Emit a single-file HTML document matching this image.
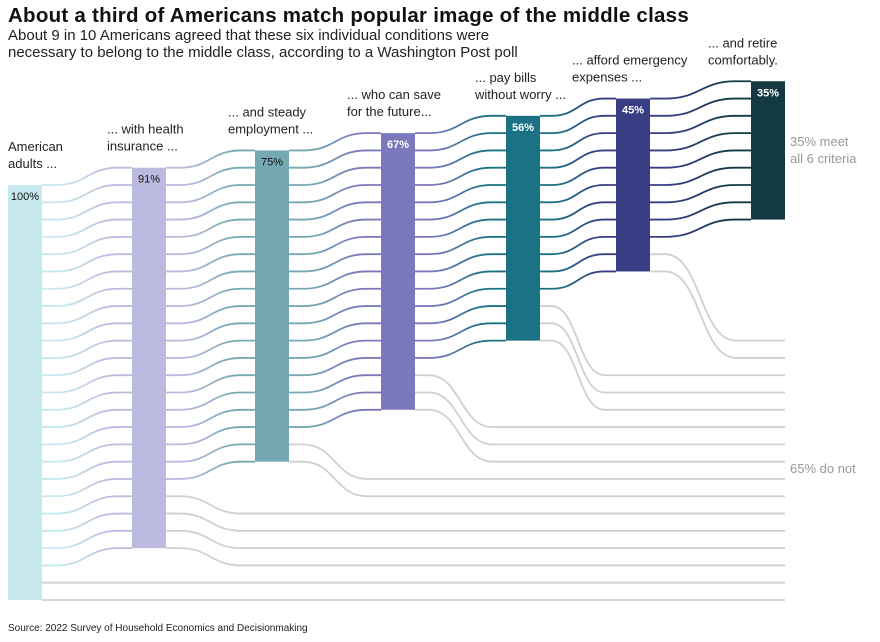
<!DOCTYPE html>
<html><head><meta charset="utf-8">
<style>
body{margin:0;background:#fff;width:880px;height:642px;overflow:hidden;font-family:"Liberation Sans",Arial,sans-serif;}
svg{position:absolute;left:0;top:0}
</style></head>
<body>
<svg id="chart" width="880" height="642" viewBox="0 0 880 642">
<text x="8" y="22" font-size="20.5" letter-spacing="0.25" font-weight="bold" fill="#111">About a third of Americans match popular image of the middle class</text>
<text x="8" y="40" font-size="15" fill="#222">About 9 in 10 Americans agreed that these six individual conditions were</text>
<text x="8" y="57" font-size="15" fill="#222">necessary to belong to the middle class, according to a Washington Post poll</text>
<g id="gray"></g><g id="colored"></g><g id="bars"></g><g id="labels"></g>
<text x="790" y="146" font-size="13" fill="#999">35% meet</text>
<text x="790" y="163" font-size="13" fill="#999">all 6 criteria</text>
<text x="790" y="473" font-size="13" fill="#999">65% do not</text>
<text x="8" y="631" font-size="10" fill="#222">Source: 2022 Survey of Household Economics and Decisionmaking</text>
</svg>
<script>
const stages = ["American adults ...", "... with health insurance ...", "... and steady employment ...", "... who can save for the future...", "... pay bills without worry ...", "... afford emergency expenses ...", "... and retire comfortably."];
const percents = [100, 91, 75, 67, 56, 45, 35];
const rowUnits = [24, 22, 18, 16, 13, 10, 8];
const colors = ["#c6e8ee", "#bcbadf", "#74a9b4", "#7b78bb", "#1b7285", "#393e84", "#133a41"];
const labelLines = [["American","adults ..."],["... with health","insurance ..."],["... and steady","employment ..."],["... who can save","for the future..."],["... pay bills","without worry ..."],["... afford emergency","expenses ..."],["... and retire","comfortably."]];

const NS="http://www.w3.org/2000/svg";
const barX=[8,132,255,381,506,616,751], barW=34;
const baseTop=185, baseBottom=600;
const s=(baseBottom-baseTop)/rowUnits[0];
const topY=k=>baseTop-k*s;
const lineY=(k,i)=>topY(k)+i*s;
const finalY=i=>baseTop+i*s;
const rightEdge=barX[6]+barW;
const svg=document.getElementById('chart');
const defs=document.createElementNS(NS,'defs');svg.insertBefore(defs,svg.firstChild);
function curve(x1,y1,x2,y2){const g=x2-x1;const a=x1+g*0.15,b=x2-g*0.15,m=(a+b)/2;
 return `M${x1},${y1}H${a}C${m},${y1} ${m},${y2} ${b},${y2}H${x2}`;}
const gG=document.getElementById('gray'),gC=document.getElementById('colored'),gB=document.getElementById('bars'),gL=document.getElementById('labels');
for(let k=0;k<stages.length-1;k++){
 const x1=barX[k]+barW,x2=barX[k+1];
 const gr=document.createElementNS(NS,'linearGradient');
 gr.setAttribute('id','g'+k);gr.setAttribute('gradientUnits','userSpaceOnUse');
 gr.setAttribute('x1',x1);gr.setAttribute('x2',x2);gr.setAttribute('y1',0);gr.setAttribute('y2',0);
 gr.innerHTML=`<stop offset="0.2" stop-color="${colors[k]}"/><stop offset="0.8" stop-color="${colors[k+1]}"/>`;
 defs.appendChild(gr);
 for(let i=0;i<=rowUnits[k];i++){
  const p=document.createElementNS(NS,'path');
  if(i<=rowUnits[k+1]){
   p.setAttribute('d',curve(x1,lineY(k,i),x2,lineY(k+1,i)));
   p.setAttribute('stroke','url(#g'+k+')');
   
   
   gC.appendChild(p);
  } else {
   p.setAttribute('d',curve(x1,lineY(k,i),x2,finalY(i))+`H${rightEdge}`);
   p.setAttribute('stroke','#d0d0d0');
   
   
   gG.appendChild(p);
  }
  p.setAttribute('fill','none');p.setAttribute('stroke-width','1.8');
 }
}
for(let k=0;k<stages.length;k++){
 const r=document.createElementNS(NS,'rect');
 r.setAttribute('x',barX[k]);r.setAttribute('y',topY(k));r.setAttribute('width',barW);r.setAttribute('height',rowUnits[k]*s);
 r.setAttribute('fill',colors[k]);
 
 
 gB.appendChild(r);
 const t=document.createElementNS(NS,'text');
 const dark=k>=3;
 t.setAttribute('x',barX[k]+barW/2);t.setAttribute('y',topY(k)+15);t.setAttribute('text-anchor','middle');
 t.setAttribute('font-size','11');t.setAttribute('fill',dark?'#fff':'#111');
 if(dark)t.setAttribute('font-weight','bold');
 t.textContent=percents[k]+'%';
 
 
 gL.appendChild(t);
 const lx=[8,107,228,347,475,572,708][k];
 labelLines[k].forEach((ln,j)=>{
  const tt=document.createElementNS(NS,'text');
  tt.setAttribute('x',lx);tt.setAttribute('y',topY(k)-34+j*17);tt.setAttribute('font-size','13');tt.setAttribute('fill','#222');
  tt.textContent=ln;
  
  
  gL.appendChild(tt);
 });
}
</script>
</body></html>
